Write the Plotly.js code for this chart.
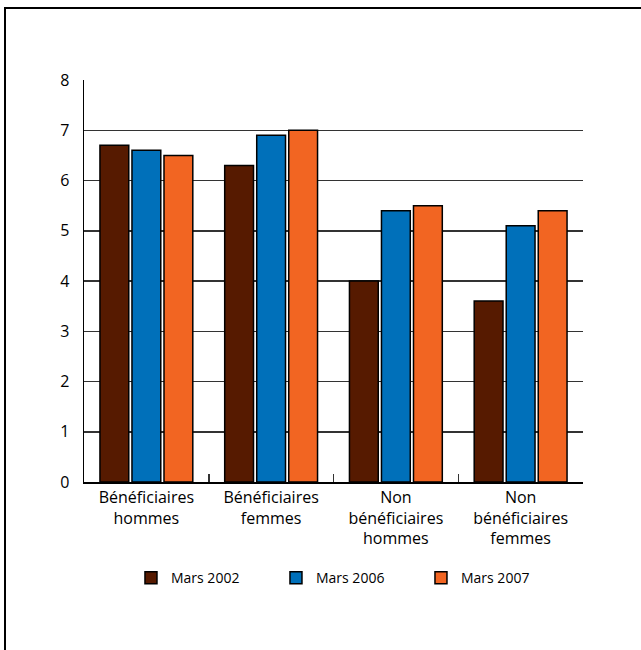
<!DOCTYPE html>
<html>
<head>
<meta charset="utf-8">
<script src="https://cdn.plot.ly/plotly-3.0.1.min.js"></script>
<style>
  html, body { margin: 0; padding: 0; background: #fff; }
  #chart { width: 641px; height: 650px; }
  #frame { position: absolute; left: 4px; top: 7px; width: 660px; height: 660px;
           border-top: 2px solid #000; border-left: 2px solid #000; pointer-events: none; }
</style>
</head>
<body>
<div id="chart"></div>
<div id="frame"></div>
<script>
const categories = [
  "Bénéficiaires<br>hommes",
  "Bénéficiaires<br>femmes",
  "Non<br>bénéficiaires<br>hommes",
  "Non<br>bénéficiaires<br>femmes"
];
const seriesNames = ["Mars 2002", "Mars 2006", "Mars 2007"];
const mars2002 = [6.7, 6.3, 4.0, 3.6];
const mars2006 = [6.6, 6.9, 5.4, 5.1];
const mars2007 = [6.5, 7.0, 5.5, 5.4];
const colors = ["#561A00", "#0070BA", "#F26522"];
const yTicks = [0, 1, 2, 3, 4, 5, 6, 7, 8];

const seriesValues = [mars2002, mars2006, mars2007];
const traces = seriesValues.map((vals, i) => ({
  type: "bar",
  name: seriesNames[i],
  x: categories,
  y: vals,
  marker: { color: colors[i], line: { color: "#000", width: 1.5 } },
  hoverinfo: "x+y+name"
}));

const font = { family: "Open Sans, Noto Sans, sans-serif", size: 16, color: "#000" };

const layout = {
  width: 641, height: 650,
  margin: { l: 84, r: 58, t: 80, b: 168 },
  paper_bgcolor: "#fff", plot_bgcolor: "#fff",
  font: font,
  barmode: "group",
  bargap: 0.23,
  bargroupgap: 0.1,
  showlegend: true,
  legend: {
    orientation: "h", x: 0.53, xanchor: "center", y: -0.239, yanchor: "middle",
    font: { family: font.family, size: 14, color: "#000" },
    entrywidth: 100, entrywidthmode: "pixels", itemwidth: 30,
    traceorder: "normal"
  },
  xaxis: {
    type: "category",
    showline: true, linecolor: "#000", linewidth: 1.5,
    ticks: "inside", tickson: "boundaries", ticklen: 8, tickcolor: "#333", tickwidth: 1.5,
    showgrid: false,
    tickfont: font,
    fixedrange: true
  },
  yaxis: {
    range: [0, 8],
    tickvals: yTicks,
    ticktext: yTicks.map(String),
    showline: true, linecolor: "#000", linewidth: 1.5,
    showgrid: true, gridcolor: "#333", gridwidth: 1.5,
    zeroline: false,
    ticks: "", ticklabelstandoff: 10,
    tickfont: font,
    fixedrange: true
  }
};

Plotly.newPlot("chart", traces, layout, { displayModeBar: false, staticPlot: true });
</script>
</body>
</html>
